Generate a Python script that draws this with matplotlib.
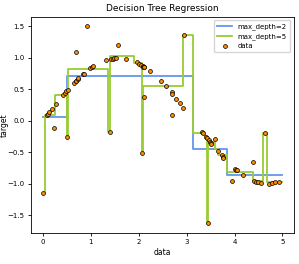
import numpy as np
import matplotlib
matplotlib.use("Agg")
import matplotlib.pyplot as plt

# data points (sorted by x)
x_data = [0.00, 0.09, 0.10, 0.14, 0.20, 0.24, 0.27, 0.43, 0.46, 0.49,
          0.51, 0.52, 0.65, 0.69, 0.70, 0.70, 0.73, 0.74, 0.83, 0.85,
          0.93, 0.99, 1.02, 1.05, 1.32, 1.40, 1.43, 1.46, 1.49, 1.52,
          1.58, 1.74, 1.96, 2.00, 2.05, 2.08, 2.09, 2.10, 2.11, 2.115,
          2.12, 2.24, 2.46, 2.57, 2.69, 2.69, 2.70, 2.79, 2.86, 2.93,
          2.94, 3.33, 3.35, 3.40, 3.42, 3.44, 3.46, 3.48, 3.50, 3.52,
          3.59, 3.65, 3.73, 3.75, 3.77, 3.94, 4.01, 4.03, 4.05, 4.18,
          4.39, 4.40, 4.45, 4.50, 4.55, 4.63, 4.72, 4.78, 4.85, 4.93]
y_data = [-1.15, 0.09, 0.10, 0.14, 0.19, -0.12, 0.26, 0.41, 0.44, 0.47,
          -0.26, 0.49, 0.60, 0.63, 0.64, 1.10, 0.67, 0.68, 0.74, 0.75,
          1.50, 0.84, 0.85, 0.87, 0.97, -0.18, 0.99, 0.99, 1.00, 1.00,
          1.21, 0.99, 0.93, 0.91, 0.89, -0.51, 0.87, 0.86, 0.86, 0.86,
          0.38, 0.79, 0.63, 0.55, 0.45, 0.09, 0.42, 0.34, 0.28, 0.21,
          1.36, -0.18, -0.20, -0.25, -0.27, -1.63, -0.31, -0.33, -0.35, -0.37,
          -0.29, -0.48, -0.55, -0.57, -0.59, -0.95, -0.76, -0.78, -0.79, -0.86,
          -0.66, -0.95, -0.97, -0.98, -0.99, -0.20, -1.00, -0.99, -0.98, -0.97]

# tree predictions: split edges and leaf values
depth2_edges = [0.0, 0.515, 3.13, 3.85, 4.99]
depth2_vals = [0.055, 0.71, -0.45, -0.87]

depth5_edges = [0.0, 0.045, 0.26, 0.50, 0.52, 1.37, 1.41, 1.90, 2.06, 2.09,
                2.93, 3.13, 3.38, 3.43, 3.45, 3.59, 3.65, 3.85, 4.39, 4.59,
                4.67, 4.99]
depth5_vals = [-1.15, 0.09, 0.41, -0.26, 0.82, -0.18, 1.03, 0.92, -0.51, 0.55,
               1.36, -0.19, -0.26, -1.63, -0.34, -0.45, -0.55, -0.82, -0.95, -0.20,
               -0.98]


def step_xy(edges, vals):
    xs, ys = [], []
    for i, v in enumerate(vals):
        xs += [edges[i], edges[i + 1]]
        ys += [v, v]
    return xs, ys


fig = plt.figure(figsize=(2.99, 2.64), dpi=100)
ax = fig.add_axes([0.103, 0.117, 0.88, 0.82])

pts = ax.scatter(x_data, y_data, s=8, edgecolor="black", linewidths=0.5,
                 c="darkorange", label="data", zorder=3)
bx, by = step_xy(depth2_edges, depth2_vals)
l2, = ax.plot(bx, by, color="cornflowerblue", label="max_depth=2", linewidth=1.3)
gx, gy = step_xy(depth5_edges, depth5_vals)
l5, = ax.plot(gx, gy, color="yellowgreen", label="max_depth=5", linewidth=1.3)

ax.set_xlabel("data", fontsize=5.5, labelpad=2)
ax.set_ylabel("target", fontsize=5.5)
ax.yaxis.set_label_coords(-0.085, 0.5)
ax.set_title("Decision Tree Regression", fontsize=6.5, pad=4)
ax.tick_params(labelsize=5, length=2.5, width=0.6, pad=2)
for s in ax.spines.values():
    s.set_linewidth(0.6)
ax.legend(handles=[l2, l5, pts], loc="upper right", fontsize=5,
          handlelength=2.2, borderpad=0.5, labelspacing=0.4)

fig.savefig("out.png", dpi=100)
